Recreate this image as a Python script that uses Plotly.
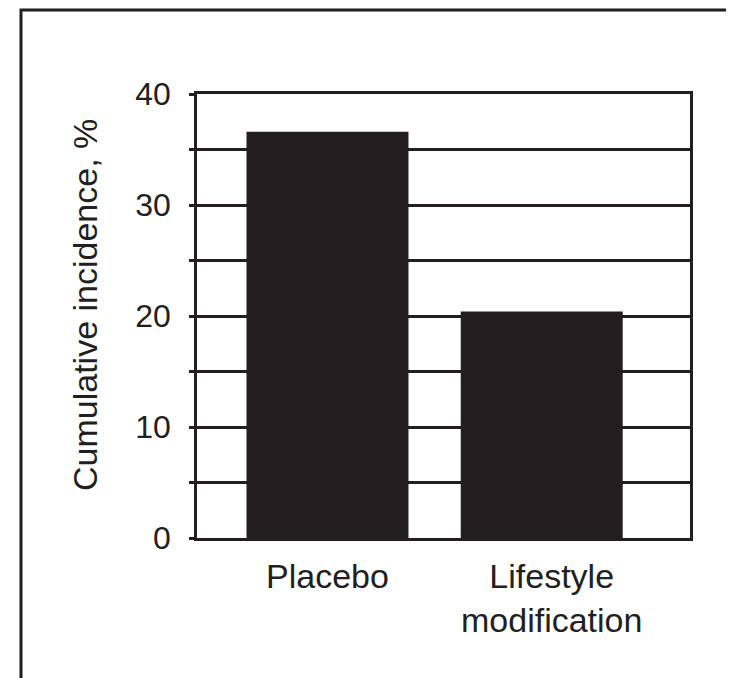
import plotly.graph_objects as go

categories = ["Placebo", "Lifestyle<br>modification"]
values = [36.6, 20.4]
y_tick_vals = [0, 10, 20, 30, 40]
y_tick_text = ["0", "10", "20", "30", "40"]
y_title = "Cumulative incidence, %"

INK = "#231f20"
TXT = "#231f20"
FONT = "Liberation Sans, Arial, sans-serif"

OFF = 8  # page body margin
W, H = 734 - OFF, 678 - OFF
L, R, T, B = 197 - OFF, 690 - OFF, 94 - OFF, 538 - OFF  # plot area in figure pixels

x_pos = list(range(len(categories)))

fig = go.Figure()
fig.add_trace(go.Bar(
    x=x_pos, y=values, width=0.756,
    marker=dict(color=INK, line=dict(width=0)),
    showlegend=False, hoverinfo="skip",
))

fig.update_layout(
    width=W, height=H,
    margin=dict(l=L, r=W - R, t=T, b=H - B, pad=0),
    paper_bgcolor="white", plot_bgcolor="white",
    font=dict(family=FONT, color=TXT),
    xaxis=dict(
        range=[-0.609, 1.692], showticklabels=False, ticks="",
        showgrid=False, zeroline=False,
        showline=True, linecolor=INK, linewidth=2.5, mirror=True,
    ),
    yaxis=dict(
        range=[0, 40], tickvals=y_tick_vals, ticktext=y_tick_text,
        tickfont=dict(size=32, family=FONT, color=TXT),
        ticks="outside", ticklen=5, tickwidth=2.5, tickcolor=INK,
        ticklabelstandoff=12,
        showgrid=True, gridcolor=INK, gridwidth=2.5,
        minor=dict(tickvals=[5, 15, 25, 35], ticks="outside", ticklen=5,
                   tickwidth=2.5, tickcolor=INK, showgrid=True,
                   gridcolor=INK, gridwidth=2.5),
        zeroline=False,
        showline=True, linecolor=INK, linewidth=2.5, mirror=True,
    ),
    bargap=0.3,
)

pw, ph = R - L, B - T
def px(xp):
    return (xp - OFF - L) / pw
def py(yp):
    return (B - (yp - OFF)) / ph

# category labels
label_shift = [0, 10]
for i, (c, s) in enumerate(zip(categories, label_shift)):
    fig.add_annotation(
        x=x_pos[i], y=py(555), xref="x", yref="paper",
        text=c, showarrow=False, xanchor="center", yanchor="top",
        xshift=s, align="center",
        font=dict(size=34, family=FONT, color=TXT),
    )

# y title
fig.add_annotation(
    x=px(85), y=py(305), xref="paper", yref="paper",
    text=y_title, showarrow=False, textangle=-90,
    xanchor="center", yanchor="middle",
    font=dict(size=34, family=FONT, color=TXT),
)

# outer frame
fig.add_shape(
    type="rect", xref="paper", yref="paper",
    x0=px(21), x1=px(733), y0=py(690), y1=py(10),
    line=dict(color=INK, width=3), fillcolor="rgba(0,0,0,0)",
)

fig.write_html("out.html")
